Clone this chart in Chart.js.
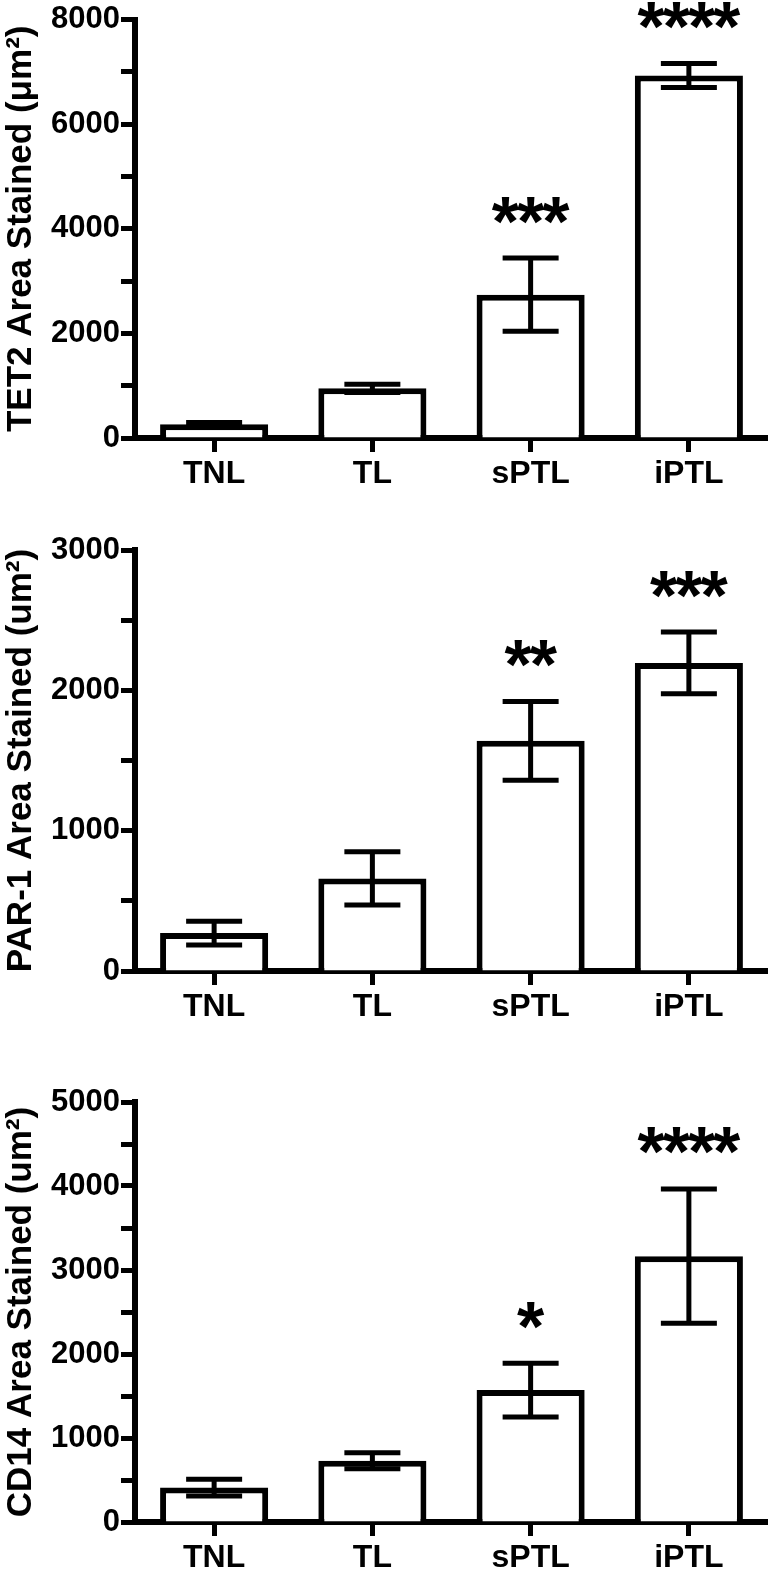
<!DOCTYPE html>
<html>
<head>
<meta charset="utf-8">
<script src="https://cdn.jsdelivr.net/npm/chart.js@4"></script>
<style>
  html, body { margin: 0; padding: 0; background: #fff; overflow: hidden; }
  body { width: 768px; height: 1569px; position: relative; }
  canvas { position: absolute; left: 0; }
</style>
</head>
<body>
<canvas id="tet2" width="768" height="488" style="top:0px"></canvas>
<canvas id="par1" width="768" height="501" style="top:520px"></canvas>
<canvas id="cd14" width="768" height="512" style="top:1060px"></canvas>

<script>
// groups on the x axis
const categories = ['TNL', 'TL', 'sPTL', 'iPTL'];

// TET2 panel
const tet2Means = [265, 950, 2740, 6930];
const tet2Errors = [30, 80, 700, 230];
const tet2Stars = ['', '', '***', '****'];

// PAR-1 panel
const par1Means = [270, 660, 1640, 2195];
const par1Errors = [85, 190, 280, 220];
const par1Stars = ['', '', '**', '***'];

// CD14 panel
const cd14Means = [410, 730, 1570, 3165];
const cd14Errors = [100, 95, 320, 800];
const cd14Stars = ['', '', '*', '****'];

const FONT = '"Liberation Sans", Arial, Helvetica, sans-serif';

// draws SEM whiskers and significance stars on top of the bars
const errorBarPlugin = {
  id: 'errorBars',
  afterDatasetsDraw(chart, args, opts) {
    const ctx = chart.ctx;
    const meta = chart.getDatasetMeta(0);
    const y = chart.scales.y;
    const means = chart.data.datasets[0].data;
    ctx.save();
    ctx.strokeStyle = '#000';
    ctx.fillStyle = '#000';
    ctx.lineWidth = 5;
    ctx.lineCap = 'butt';
    meta.data.forEach((bar, i) => {
      const x = bar.x;
      const hi = y.getPixelForValue(means[i] + opts.errors[i]);
      const lo = y.getPixelForValue(means[i] - opts.errors[i]);
      ctx.beginPath();
      ctx.moveTo(x, hi);
      ctx.lineTo(x, lo);
      ctx.moveTo(x - 28, hi);
      ctx.lineTo(x + 28, hi);
      ctx.moveTo(x - 28, lo);
      ctx.lineTo(x + 28, lo);
      ctx.stroke();

      const s = opts.stars[i];
      if (s) {
        ctx.font = 'bold 70px ' + FONT;
        ctx.letterSpacing = '-2px';
        ctx.textAlign = 'center';
        ctx.textBaseline = 'alphabetic';
        const m = ctx.measureText(s);
        const cy = hi - 48;
        ctx.fillText(s, x - 1, cy + (m.actualBoundingBoxAscent - m.actualBoundingBoxDescent) / 2);
      }
    });
    ctx.restore();
  }
};

function makeChart(id, means, errors, stars, yMax, step, labelStep, title, padTop) {
  return new Chart(document.getElementById(id), {
    type: 'bar',
    data: {
      labels: categories,
      datasets: [{
        data: means,
        backgroundColor: '#fff',
        borderColor: '#000',
        borderWidth: 6,
        categoryPercentage: 1,
        barPercentage: 0.683
      }]
    },
    options: {
      responsive: false,
      animation: false,
      devicePixelRatio: 1,
      layout: { padding: { top: padTop, left: 0, right: 0, bottom: 0 } },
      plugins: {
        legend: { display: false },
        tooltip: { enabled: false },
        errorBars: { errors: errors, stars: stars }
      },
      scales: {
        x: {
          afterFit: (s) => { s.height = 50; },
          border: { display: true, color: '#000', width: 6 },
          grid: { offset: false, drawOnChartArea: false, tickLength: 14, tickWidth: 5, tickColor: '#000' },
          ticks: { color: '#000', font: { family: FONT, size: 32, weight: 'bold' }, padding: 3, maxRotation: 0, autoSkip: false }
        },
        y: {
          min: 0,
          max: yMax,
          afterFit: (s) => { s.width = 135; },
          border: { display: true, color: '#000', width: 6 },
          grid: { drawOnChartArea: false, tickLength: 14, tickWidth: 5, tickColor: '#000' },
          ticks: {
            stepSize: step,
            color: '#000',
            padding: 1,
            font: { family: FONT, size: 31, weight: 'bold' },
            callback: (v) => (v % labelStep === 0 ? String(v) : '')
          },
          title: {
            display: true,
            text: title,
            color: '#000',
            padding: 0,
            font: { family: FONT, size: 35, weight: 'bold', lineHeight: 1.2 }
          }
        }
      }
    },
    plugins: [errorBarPlugin]
  });
}

makeChart('tet2', tet2Means, tet2Errors, tet2Stars, 8000, 1000, 2000, 'TET2 Area Stained (\u03bcm\u00b2)', 17);
makeChart('par1', par1Means, par1Errors, par1Stars, 3000, 500, 1000, 'PAR-1 Area Stained (um\u00b2)', 30);
makeChart('cd14', cd14Means, cd14Errors, cd14Stars, 5000, 500, 1000, 'CD14 Area Stained (um\u00b2)', 42);
</script>
</body>
</html>
